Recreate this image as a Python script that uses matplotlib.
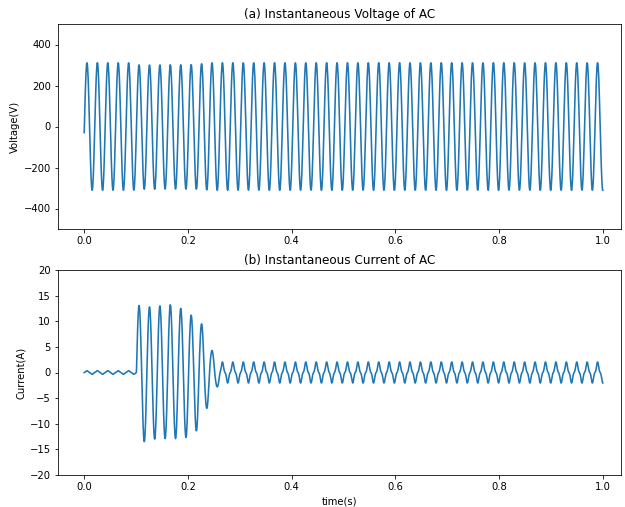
import numpy as np
import matplotlib
matplotlib.use("Agg")
import matplotlib.pyplot as plt

# ---- data ----
n_samples = 2001
freq_hz = 49.77              # measured: 50 peaks between t=0.0053 and t=0.990
phase0_rad = -0.096          # v(0) ~ -30 V

v_nominal_peak = 311.0
v_fault_first_cycle = 5
v_fault_peaks = [301, 300, 300, 301, 301, 302, 306]
v_fault_troughs = [-306, -306, -305, -305, -306, -306, -309]

i_pre_fund = 0.30
i_pre_third = 0.05
i_fault_first_cycle = 5
i_fault_peaks = [13.1, 12.8, 13.0, 13.2, 12.5, 11.2, 9.5, 4.3]
i_fault_troughs = [-13.5, -13.0, -12.9, -12.9, -12.7, -11.4, -7.0, -2.8]
i_post_fund = 1.65
i_post_third = 0.40

x_ticks = [0.0, 0.2, 0.4, 0.6, 0.8, 1.0]
v_ticks = [-400, -200, 0, 200, 400]
i_ticks = [-20, -15, -10, -5, 0, 5, 10, 15, 20]

# ---- build waveforms from the per-cycle values ----
t = np.linspace(0, 1, n_samples)
c = freq_hz * t + phase0_rad / (2 * np.pi)
theta = 2 * np.pi * c
k = np.floor(c).astype(int)
positive = (c - np.floor(c)) < 0.5
s = np.sin(theta)

v = v_nominal_peak * s
for j, (pk, tr) in enumerate(zip(v_fault_peaks, v_fault_troughs)):
    m = k == v_fault_first_cycle + j
    v[m & positive] = pk * s[m & positive]
    v[m & ~positive] = -tr * s[m & ~positive]

i = i_pre_fund * s - i_pre_third * np.sin(3 * theta)
last_fault = i_fault_first_cycle + len(i_fault_peaks) - 1
for j, (pk, tr) in enumerate(zip(i_fault_peaks, i_fault_troughs)):
    m = k == i_fault_first_cycle + j
    i[m & positive] = pk * s[m & positive]
    i[m & ~positive] = -tr * s[m & ~positive]
post = k > last_fault
i[post] = i_post_fund * s[post] - i_post_third * np.sin(3 * theta[post])

# ---- plot ----
DPI = 72
W, H = 625, 507
fig = plt.figure(figsize=(W / DPI, H / DPI), dpi=DPI)
left, right = 58, 621
ax1 = fig.add_axes([left / W, (H - 229) / H, (right - left) / W, 205 / H])
ax2 = fig.add_axes([left / W, (H - 475) / H, (right - left) / W, 205 / H])

ax1.plot(t, v, color="#1f77b4", linewidth=1.6)
ax1.set_title("(a) Instantaneous Voltage of AC")
ax1.set_ylabel("Voltage(V)")
ax1.set_ylim(-500, 500)
ax1.set_yticks(v_ticks)
ax1.set_xticks(x_ticks)
ax1.set_xlim(-0.0505, 1.035)

ax2.plot(t, i, color="#1f77b4", linewidth=1.6)
ax2.set_title("(b) Instantaneous Current of AC")
ax2.set_ylabel("Current(A)")
ax2.set_xlabel("time(s)")
ax2.set_ylim(-20, 20)
ax2.set_yticks(i_ticks)
ax2.set_xticks(x_ticks)
ax2.set_xlim(-0.0505, 1.035)

fig.savefig("out.png", dpi=DPI)
